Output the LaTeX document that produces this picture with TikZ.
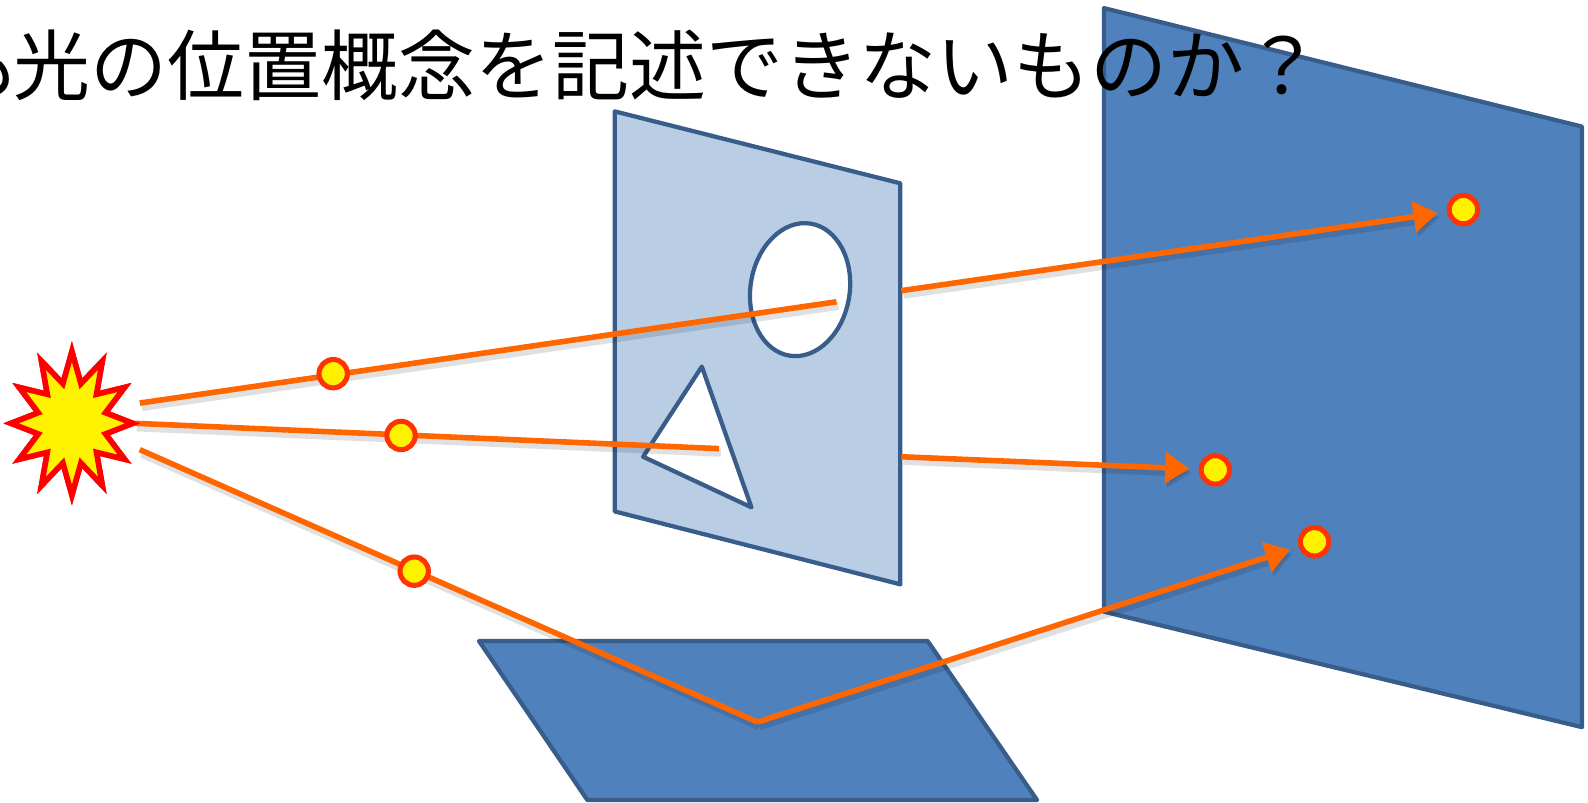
\documentclass[tikz,border=0pt]{standalone}
\usepackage{fontspec}
\newfontfamily\jpfont{Noto Sans CJK JP}
\usetikzlibrary{shapes.geometric, arrows.meta, positioning, calc}
\definecolor{panelblue}{RGB}{79,129,189}
\definecolor{paneledge}{RGB}{56,93,138}
\definecolor{panellight}{RGB}{185,205,229}
\definecolor{rayorange}{RGB}{255,102,0}
\definecolor{spotedge}{RGB}{255,51,0}

\begin{document}
\begin{tikzpicture}[x=0.01cm, y=-0.01cm,
  panel/.style={draw=paneledge, fill=panelblue, line width=0.042cm, line join=round},
  screen/.style={panel, fill=panellight},
  hole/.style={draw=paneledge, fill=white, line width=0.042cm, line join=round},
  ray/.style={draw=rayorange, line width=0.055cm,
    preaction={draw=black, opacity=0.12, line width=0.08cm, transform canvas={xshift=0.02cm, yshift=-0.04cm}}},
  arr/.style={ray, -{Triangle[length=0.24cm, width=0.3cm]}, shorten >=0.09cm},
  spot/.style={circle, draw=spotedge, fill=yellow, line width=0.05cm, minimum size=0.28cm, inner sep=0pt},
  burst/.style={star, star points=12, star point ratio=1.75, draw=red, fill=yellow, line width=0.055cm,
    minimum size=1.2cm, inner sep=0pt, yscale=1.18, transform shape}
]
\useasboundingbox (0,0) rectangle (1568,792);

% screens and floor
\draw[panel] (1090,8) -- (1562,125) -- (1562,718) -- (1090,604) -- cycle;
\draw[panel] (473,633) -- (916,633) -- (1024,790) -- (580,790) -- cycle;
\draw[screen] (607,110) -- (889,181) -- (889,577) -- (607,505) -- cycle;
\draw[hole, rotate around={-9:(790,286)}] (790,286) ellipse [x radius=49, y radius=66];
\draw[hole] (693,362) -- (742,501) -- (635,451) -- cycle;

% light source
\node[burst] (src) at (71,418) {};
\coordinate (r1) at (138,398);
\coordinate (r2) at (133,418);
\coordinate (r3) at (138,444);

% break points of the rays
\coordinate (h1) at (826,298);
\coordinate (e1) at (890,287);
\coordinate (h2) at (710,443);
\coordinate (e2) at (890,451);
\coordinate (fl) at (748,713);

% spots on the screen
\node[spot] (t1) at (1445,207) {};
\node[spot] (t2) at (1200,464) {};
\node[spot] (t3) at (1298,535) {};

% rays
\draw[ray] (r1) -- (h1);
\draw[arr] (e1) -- (t1);
\draw[ray] (r2) -- (h2);
\draw[arr] (e2) -- (t2);
\draw[ray] (r3) -- (fl);
\draw[arr] (fl) -- (t3);

% photons on the way
\node[spot] (d1) at (329,369) {};
\node[spot] (d2) at (396,430) {};
\node[spot] (d3) at (409,564) {};

\node[burst] at (src) {};

\node[anchor=base west, inner sep=0pt, font=\jpfont\fontsize{21.6pt}{26pt}\selectfont] (title) at (-57,93)
  {も\kern-0.08em 光の位置概念を記述できないものか？};
\end{tikzpicture}
\end{document}
